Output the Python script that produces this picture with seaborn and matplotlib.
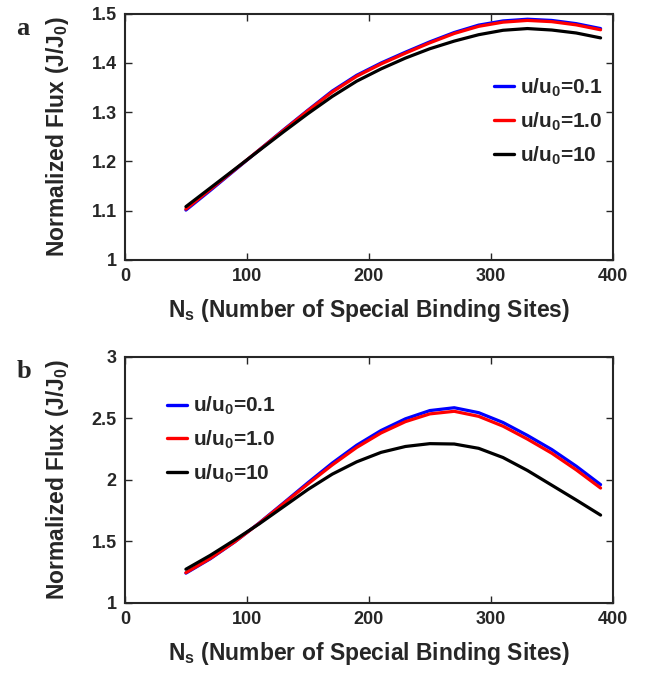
import matplotlib
matplotlib.use("Agg")
import matplotlib.pyplot as plt
import seaborn as sns
import pandas as pd

# Number of special binding sites sampled along each curve
ns = [50, 70, 90, 110, 130, 150, 170, 190, 210, 230, 250, 270, 290, 310, 330, 350, 370, 390]

# Panel a: normalized flux J/J0
flux_a_01 = [1.101, 1.141, 1.182, 1.223, 1.264, 1.304, 1.343, 1.375, 1.400, 1.422, 1.443,
             1.462, 1.477, 1.4855, 1.489, 1.4865, 1.480, 1.470]
flux_a_10 = [1.103, 1.143, 1.183, 1.223, 1.263, 1.303, 1.341, 1.373, 1.398, 1.420, 1.441,
             1.460, 1.4745, 1.483, 1.4865, 1.484, 1.4775, 1.4675]
flux_a_100 = [1.108, 1.146, 1.184, 1.222, 1.260, 1.297, 1.332, 1.363, 1.388, 1.410, 1.429,
              1.4445, 1.4575, 1.4665, 1.470, 1.467, 1.461, 1.451]

# Panel b: normalized flux J/J0
flux_b_01 = [1.240, 1.357, 1.494, 1.647, 1.810, 1.975, 2.135, 2.280, 2.400, 2.495, 2.562,
             2.585, 2.545, 2.465, 2.360, 2.245, 2.110, 1.960]
flux_b_10 = [1.244, 1.360, 1.495, 1.645, 1.805, 1.965, 2.120, 2.262, 2.380, 2.472, 2.535,
             2.556, 2.515, 2.435, 2.330, 2.215, 2.080, 1.932]
flux_b_100 = [1.272, 1.385, 1.510, 1.640, 1.780, 1.920, 2.045, 2.145, 2.222, 2.270, 2.293,
              2.290, 2.255, 2.180, 2.075, 1.955, 1.835, 1.712]

series_labels = ["u/u$_0$=0.1", "u/u$_0$=1.0", "u/u$_0$=10"]
series_colors = ["#0000ff", "#ff0000", "#000000"]

sns.set_style("ticks")
plt.rcParams["font.family"] = ["Liberation Sans", "DejaVu Sans"]
plt.rcParams["font.weight"] = "bold"
plt.rcParams["mathtext.fontset"] = "custom"
plt.rcParams["mathtext.rm"] = "Liberation Sans:bold"
plt.rcParams["mathtext.it"] = "Liberation Sans:bold"
plt.rcParams["mathtext.bf"] = "Liberation Sans:bold"
plt.rcParams["mathtext.default"] = "rm"


def long_form(values):
    rows = []
    for label, ys in zip(series_labels, values):
        for x, y in zip(ns, ys):
            rows.append({"Ns": x, "flux": y, "series": label})
    return pd.DataFrame(rows)


fig = plt.figure(figsize=(6.54, 6.73), dpi=100)
ax_a = fig.add_axes([0.191, 0.614, 0.746, 0.3655])
ax_b = fig.add_axes([0.191, 0.1045, 0.746, 0.3655])

panels = [
    (ax_a, [flux_a_01, flux_a_10, flux_a_100], (1.0, 1.5), [1, 1.1, 1.2, 1.3, 1.4, 1.5],
     ["1", "1.1", "1.2", "1.3", "1.4", "1.5"], (0.757, 0.745), "a"),
    (ax_b, [flux_b_01, flux_b_10, flux_b_100], (1.0, 3.0), [1, 1.5, 2, 2.5, 3],
     ["1", "1.5", "2", "2.5", "3"], (0.086, 0.845), "b"),
]

for ax, vals, ylim, yticks, yticklabels, leg_pos, letter in panels:
    df = long_form(vals)
    sns.lineplot(data=df, x="Ns", y="flux", hue="series", hue_order=series_labels,
                 palette=series_colors, linewidth=2.3, ax=ax)
    ax.set_xlim(0, 400)
    ax.set_ylim(*ylim)
    ax.set_xticks([0, 100, 200, 300, 400])
    ax.set_xticklabels(["0", "100", "200", "300", "400"])
    ax.set_yticks(yticks)
    ax.set_yticklabels(yticklabels)
    ax.tick_params(direction="in", top=True, right=True, length=5, width=1.0,
                   labelsize=13, pad=6)
    for sp in ax.spines.values():
        sp.set_visible(True)
        sp.set_linewidth(1.5)
    ax.set_xlabel("N$_\\mathrm{s}$ (Number of Special Binding Sites)", fontsize=16.5,
                  fontweight="bold")
    ax.set_ylabel("Normalized Flux (J/J$_0$)", fontsize=16.5, fontweight="bold")
    ax.xaxis.set_label_coords(0.5, -0.152)
    ax.yaxis.set_label_coords(-0.110, 0.5)
    leg = ax.legend(loc="upper left", bbox_to_anchor=leg_pos, frameon=False,
                    fontsize=15, handlelength=0.95, handletextpad=0.3,
                    labelspacing=0.56, borderaxespad=0, borderpad=0)
    for line in leg.get_lines():
        line.set_linewidth(2.4)
    ax.text(-0.222, 0.985, letter, transform=ax.transAxes, fontsize=19,
            fontweight="bold", family="Liberation Serif", va="top", ha="left")

fig.savefig("out.png", dpi=100)
